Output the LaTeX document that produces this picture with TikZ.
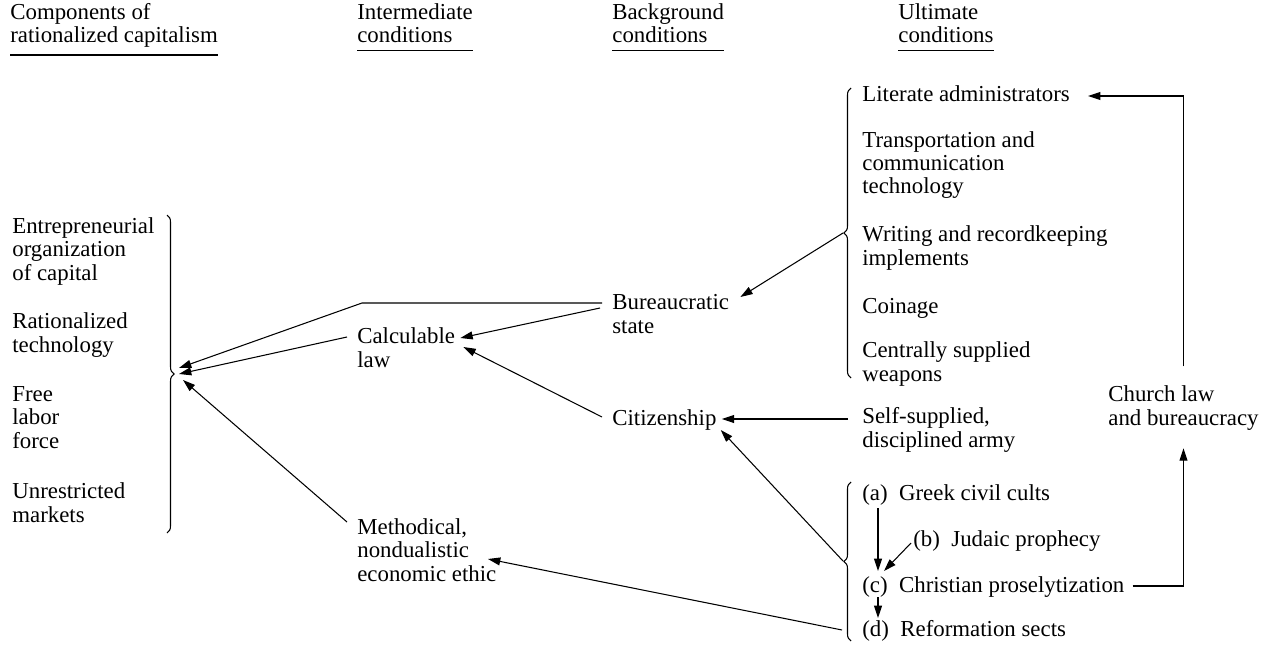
\documentclass[tikz,border=0pt]{standalone}
\usepackage{fontspec}
\setmainfont{Liberation Serif}
\usetikzlibrary{arrows.meta,decorations.pathreplacing}

\tikzset{
  txt/.style={anchor=base west, align=left, inner sep=0pt, font=\fontsize{13}{13.3}\selectfont},
  conn/.style={-{Triangle[length=7pt,width=4.5pt]}, line width=0.6pt},
  brc/.style={decorate, decoration={brace, amplitude=4pt}, line width=0.6pt}
}

\begin{document}
\begin{tikzpicture}[x=0.02cm, y=-0.02cm]
\useasboundingbox (0,0) rectangle (1267,645);

% column heads (base = last line)
\node[txt] (hcomp) at (10,43) {Components of\\rationalized capitalism};
\node[txt] (hinter) at (357,43) {Intermediate\\conditions};
\node[txt] (hback) at (612,43) {Background\\conditions};
\node[txt] (hult) at (898,43) {Ultimate\\conditions};
\foreach \n in {hcomp,hinter,hback,hult}
  \draw[line width=0.9pt] ([yshift=-4pt]\n.south west) -- ([yshift=-4pt]\n.south east);

% components
\node[txt] (entre) at (12,280) {Entrepreneurial\\organization\\of capital};
\node[txt] (ratech) at (12,352) {Rationalized\\technology};
\node[txt] (freelab) at (12,448) {Free\\labor\\force};
\node[txt] (unmark) at (12,522) {Unrestricted\\markets};
\draw[brc] (167,215) -- (167,533);
\coordinate (compbr) at (171,373);

% intermediate
\node[txt] (calclaw) at (357,367) {Calculable\\law};
\node[txt] (methethic) at (357,581) {Methodical,\\nondualistic\\economic ethic};

% background
\node[txt] (burstate) at (612,333) {Bureaucratic\\state};
\node[txt] (citizen) at (612,425) {Citizenship};

% ultimate
\node[txt] (litadm) at (862,102) {Literate administrators};
\node[txt] (transp) at (862,194) {Transportation and\\communication\\technology};
\node[txt] (writing) at (862,265) {Writing and recordkeeping\\implements};
\node[txt] (coinage) at (862,313) {Coinage};
\node[txt] (weapons) at (862,381) {Centrally supplied\\weapons};
\draw[brc] (851,378) -- (851,88);
\coordinate (ultbr) at (843,233);

\node[txt] (selfarmy) at (862,447) {Self-supplied,\\disciplined army};

\node[txt] (greek) at (862,500) {(a)\enspace Greek civil cults};
\node[txt] (judaic) at (913,546) {(b)\enspace Judaic prophecy};
\node[txt] (christian) at (862,592) {(c)\enspace Christian proselytization};
\node[txt] (reform) at (862,636) {(d)\enspace Reformation sects};
\draw[brc] (851,641) -- (851,482);
\coordinate (relbr) at (843,561);

\node[txt] (churchlaw) at (1108,425) {Church law\\and bureaucracy};

% connectors
\coordinate (burbend) at (362,303);
\draw[conn] ([shift={(-10,-30)}]burstate.base west) -- (burbend) -- ([shift={(8,-5)}]compbr);
\draw[conn] ([shift={(-12,-25)}]burstate.base west) -- ([shift={(5,-29)}]calclaw.base east);
\draw[conn] ([shift={(-10,-8)}]citizen.base west) -- ([shift={(8,-20)}]calclaw.base east);
\draw[conn] ([shift={(-10,-30)}]calclaw.base west) -- ([shift={(8,1)}]compbr);
\draw[conn] ([shift={(-10,-59)}]methethic.base west) -- ([shift={(12,7)}]compbr);
\draw[conn] (ultbr) -- ([shift={(11,-36)}]burstate.base east);
\draw[conn] ([shift={(-14,-28)}]selfarmy.base west) -- ([shift={(5,-6)}]citizen.base east);
\draw[conn] (relbr) -- ([shift={(4,5)}]citizen.base east);
\draw[conn] ([shift={(-20,-6)}]reform.base west) -- ([shift={(131,-22)}]methethic.base west);
\draw[conn] ([shift={(16,8)}]greek.base west) -- ([shift={(16,-21)}]christian.base west);
\draw[conn] ([shift={(-2,-3)}]judaic.base west) -- ([shift={(22,-21)}]christian.base west);
\draw[conn] ([shift={(16,5)}]christian.base west) -- ([shift={(16,-18)}]reform.base west);
\draw[conn] ([shift={(8,-6)}]christian.base east) -| ([shift={(0,18)}]churchlaw.south);
\draw[conn] ([shift={(0,-19)}]churchlaw.north) |- ([shift={(18,-6)}]litadm.base east);
\end{tikzpicture}
\end{document}
